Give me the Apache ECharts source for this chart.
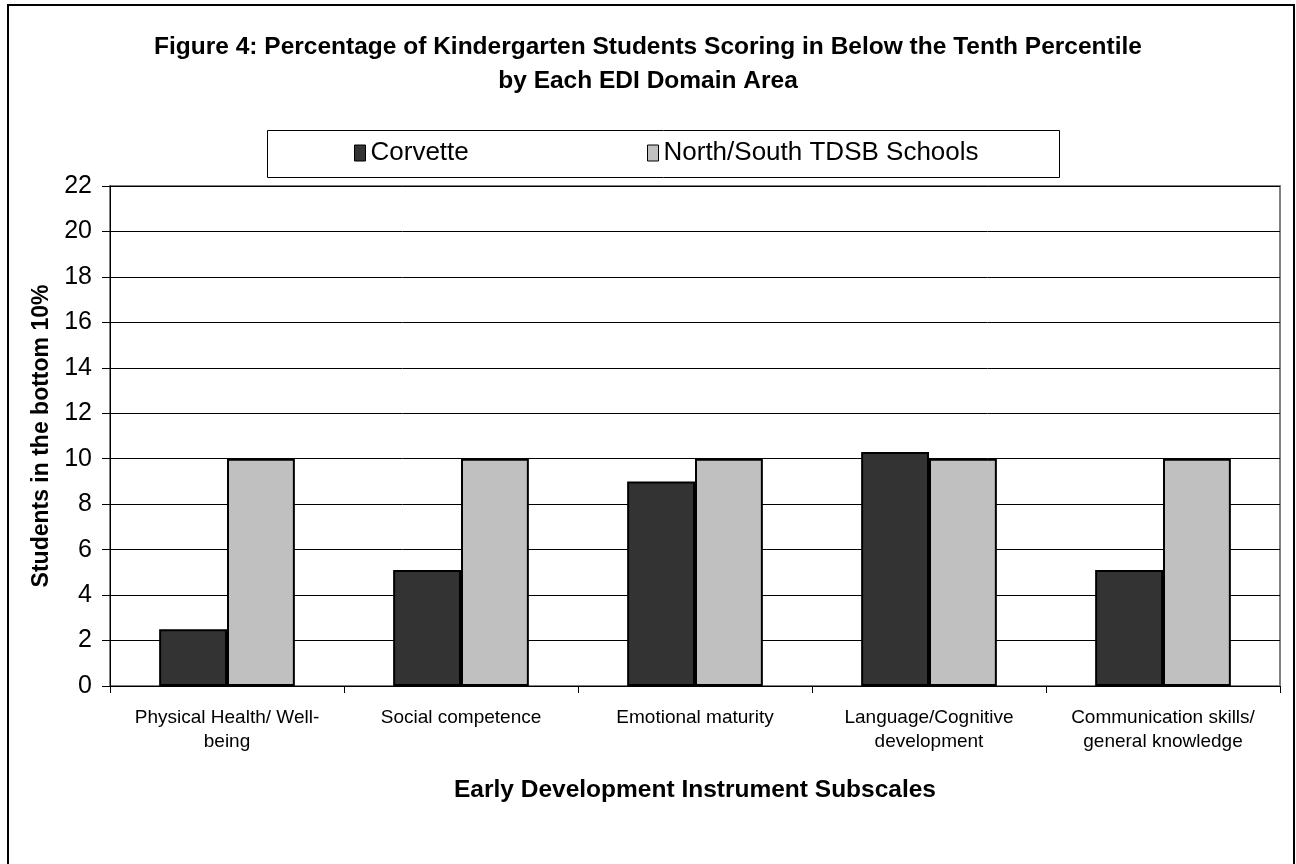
<!DOCTYPE html>
<html>
<head>
<meta charset="utf-8">
<title>Figure 4: EDI Domain Areas</title>
<script src="https://cdn.jsdelivr.net/npm/echarts@6/dist/echarts.min.js"></script>
<style>
  html, body { margin: 0; padding: 0; background: #fff; }
  #chart { width: 1296px; height: 864px; }
</style>
</head>
<body>
<div id="chart"></div>
<script>
// Early Development Instrument subscales
const categories = [
  'Physical Health/ Well-\nbeing',
  'Social competence',
  'Emotional maturity',
  'Language/Cognitive\ndevelopment',
  'Communication skills/\ngeneral knowledge'
];
// Percentage of students in the bottom 10% per domain
const corvette = [2.5, 5.1, 9.0, 10.3, 5.1];
const northSouth = [10, 10, 10, 10, 10];
const seriesNames = ['Corvette', 'North/South TDSB Schools'];

const FONT = '"Liberation Sans", Arial, Helvetica, sans-serif';

const chart = echarts.init(document.getElementById('chart'), null, { renderer: 'canvas' });

chart.setOption({
  backgroundColor: '#ffffff',
  animation: false,
  title: {
    text: 'Figure 4: Percentage of Kindergarten Students Scoring in Below the Tenth Percentile\nby Each EDI Domain Area',
    left: '50%',
    top: 30,
    padding: 0,
    textAlign: 'center',
    textStyle: {
      fontFamily: FONT,
      fontSize: 24.5,
      fontWeight: 'bold',
      color: '#000',
      lineHeight: 34
    }
  },
  graphic: [
    {
      type: 'rect',
      z: -10,
      shape: { x: 8, y: 5, width: 1286, height: 900 },
      style: { fill: 'none', stroke: '#000', lineWidth: 2 }
    },
    {
      type: 'rect',
      z: -5,
      shape: { x: 267.5, y: 130.5, width: 792, height: 47 },
      style: { fill: '#fff', stroke: '#000', lineWidth: 1 }
    }
  ],
  legend: [
    {
      data: [seriesNames[0]],
      left: 354,
      top: 140,
      padding: 0,
      itemWidth: 11,
      itemHeight: 16,
      icon: 'rect',
      itemStyle: { borderColor: '#000', borderWidth: 1 },
      textStyle: { fontFamily: FONT, fontSize: 26, color: '#000' }
    },
    {
      data: [seriesNames[1]],
      left: 647,
      top: 140,
      padding: 0,
      itemWidth: 11,
      itemHeight: 16,
      icon: 'rect',
      itemStyle: { borderColor: '#000', borderWidth: 1 },
      textStyle: { fontFamily: FONT, fontSize: 26, color: '#000' }
    }
  ],
  grid: {
    left: 110,
    top: 186,
    width: 1170,
    height: 500,
    show: true,
    borderColor: '#808080',
    borderWidth: 2,
    backgroundColor: '#fff'
  },
  xAxis: {
    type: 'category',
    data: categories,
    name: 'Early Development Instrument Subscales',
    nameLocation: 'middle',
    nameGap: 92,
    nameTextStyle: { fontFamily: FONT, fontSize: 24.5, fontWeight: 'bold', color: '#000' },
    axisLine: { show: true, lineStyle: { color: '#000', width: 1 } },
    axisTick: { show: true, length: 7, interval: 0, lineStyle: { color: '#000' } },
    axisLabel: {
      interval: 0,
      margin: 20,
      fontFamily: FONT,
      fontSize: 19,
      lineHeight: 24,
      color: '#000',
      align: 'center'
    },
    splitLine: { show: false }
  },
  yAxis: {
    type: 'value',
    min: 0,
    max: 22,
    interval: 2,
    name: 'Students in the bottom 10%',
    nameLocation: 'middle',
    nameRotate: 90,
    nameGap: 56,
    nameTextStyle: { fontFamily: FONT, fontSize: 23, fontWeight: 'bold', color: '#000' },
    axisLine: { show: true, lineStyle: { color: '#000', width: 1 } },
    axisTick: { show: true, length: 8, lineStyle: { color: '#000' } },
    axisLabel: { fontFamily: FONT, fontSize: 25, color: '#000', margin: 18 },
    splitLine: { show: true, lineStyle: { color: '#000', width: 1 } }
  },
  series: [
    {
      name: seriesNames[0],
      type: 'bar',
      data: corvette,
      barGap: '0%',
      barCategoryGap: '42%',
      itemStyle: { color: '#333333', borderColor: '#000', borderWidth: 2 }
    },
    {
      name: seriesNames[1],
      type: 'bar',
      data: northSouth,
      barGap: '0%',
      barCategoryGap: '42%',
      itemStyle: { color: '#c0c0c0', borderColor: '#000', borderWidth: 2 }
    }
  ]
});
</script>
</body>
</html>
